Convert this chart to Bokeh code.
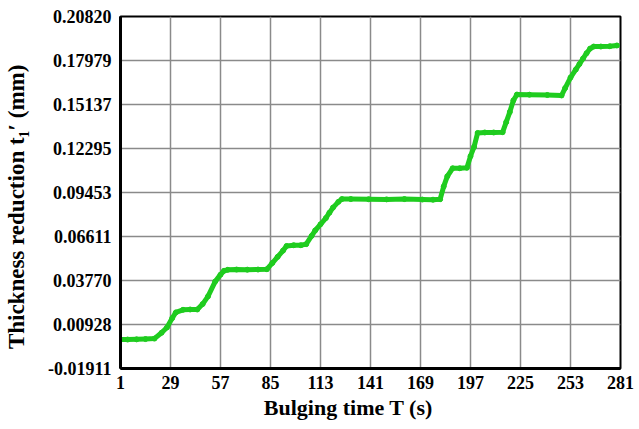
import math
from bokeh.plotting import figure
from bokeh.models import Range1d, FixedTicker, PrintfTickFormatter
from bokeh.embed import file_html
from bokeh.resources import INLINE

# ---- data ----
bulging_time = [1, 5, 10, 15, 20, 24, 27, 30, 32, 36, 40, 44, 47, 50, 54, 57, 59, 61,
                66, 72, 78, 83, 86, 89, 92, 94, 98, 102, 105, 108, 110, 113, 116, 118,
                120, 123, 125, 130, 140, 150, 160, 170, 176, 180, 182, 184, 187, 191,
                195, 197, 199, 201, 205, 210, 215, 217, 219, 221, 223, 230, 240, 248,
                250, 253, 256, 258, 260, 262, 264, 266, 270, 275, 279]
thickness_reduction = [-0.0004, -0.0004, -0.0003, -0.0001, 0.0002, 0.0040, 0.0074, 0.0135,
                       0.0171, 0.0188, 0.0190, 0.0190, 0.0225, 0.0275, 0.0370, 0.0415,
                       0.0440, 0.0446, 0.0448, 0.0447, 0.0448, 0.0450, 0.0490, 0.0530,
                       0.0570, 0.0600, 0.0605, 0.0605, 0.0612, 0.0665, 0.0700, 0.0740,
                       0.0780, 0.0815, 0.0848, 0.0885, 0.0903, 0.0903, 0.0902, 0.0901,
                       0.0903, 0.0900, 0.0899, 0.0902, 0.0985, 0.1050, 0.1102, 0.1102,
                       0.1105, 0.1180, 0.1240, 0.1330, 0.1333, 0.1333, 0.1335, 0.1400,
                       0.1465, 0.1540, 0.1578, 0.1577, 0.1575, 0.1572, 0.1620, 0.1688,
                       0.1740, 0.1775, 0.1810, 0.1845, 0.1875, 0.1888, 0.1888, 0.1890,
                       0.1895]

x_ticks = [1, 29, 57, 85, 113, 141, 169, 197, 225, 253, 281]
y_ticks = [-0.01911, 0.00928, 0.03770, 0.06611, 0.09453, 0.12295, 0.15137, 0.17979, 0.20820]

x_title = "Bulging time T (s)"
y_title = "Thickness reduction t\u2081\u2032 (mm)"

FONT = "Liberation Serif"
GREEN = "#1fcc1f"
NBSP = "\u00a0"

p = figure(width=639, height=429, output_backend="svg", toolbar_location=None,
           x_range=Range1d(x_ticks[0], x_ticks[-1]),
           y_range=Range1d(y_ticks[0], y_ticks[-1]),
           min_border_left=118, min_border_right=19, min_border_top=16,
           min_border_bottom=61)

p.outline_line_color = "black"
p.outline_line_width = 2

p.xaxis.ticker = FixedTicker(ticks=x_ticks)
p.yaxis.ticker = FixedTicker(ticks=y_ticks)
p.yaxis.formatter = PrintfTickFormatter(format="%.5f")

for ax in (p.xaxis, p.yaxis):
    ax.axis_line_color = "black"
    ax.axis_line_width = 3
    ax.major_tick_in = 0
    ax.major_tick_out = 0
    ax.minor_tick_in = 0
    ax.minor_tick_out = 0
    ax.major_label_text_font = FONT
    ax.major_label_text_font_style = "bold"
    ax.major_label_text_font_size = "18px"
    ax.major_label_text_color = "black"
    ax.axis_label_text_font = FONT
    ax.axis_label_text_font_style = "bold"
    ax.axis_label_text_color = "black"

p.yaxis.major_label_standoff = 9
p.xaxis.major_label_standoff = 7

# trailing no-break spaces shift the centred titles like in the reference
p.xaxis.axis_label = x_title + NBSP * 8
p.xaxis.axis_label_text_font_size = "22px"
p.xaxis.axis_label_standoff = 3
p.yaxis.axis_label = y_title + NBSP * 5
p.yaxis.axis_label_text_font_size = "23px"
p.yaxis.axis_label_standoff = 16

p.grid.grid_line_color = "#8a8a8a"
p.grid.grid_line_width = 1.5

p.line(bulging_time, thickness_reduction, line_color=GREEN, line_width=5,
       line_join="round", line_cap="round")
p.scatter(bulging_time, thickness_reduction, size=5, fill_color=GREEN,
          line_color=GREEN)

open("out.html", "w").write(file_html(p, INLINE))
